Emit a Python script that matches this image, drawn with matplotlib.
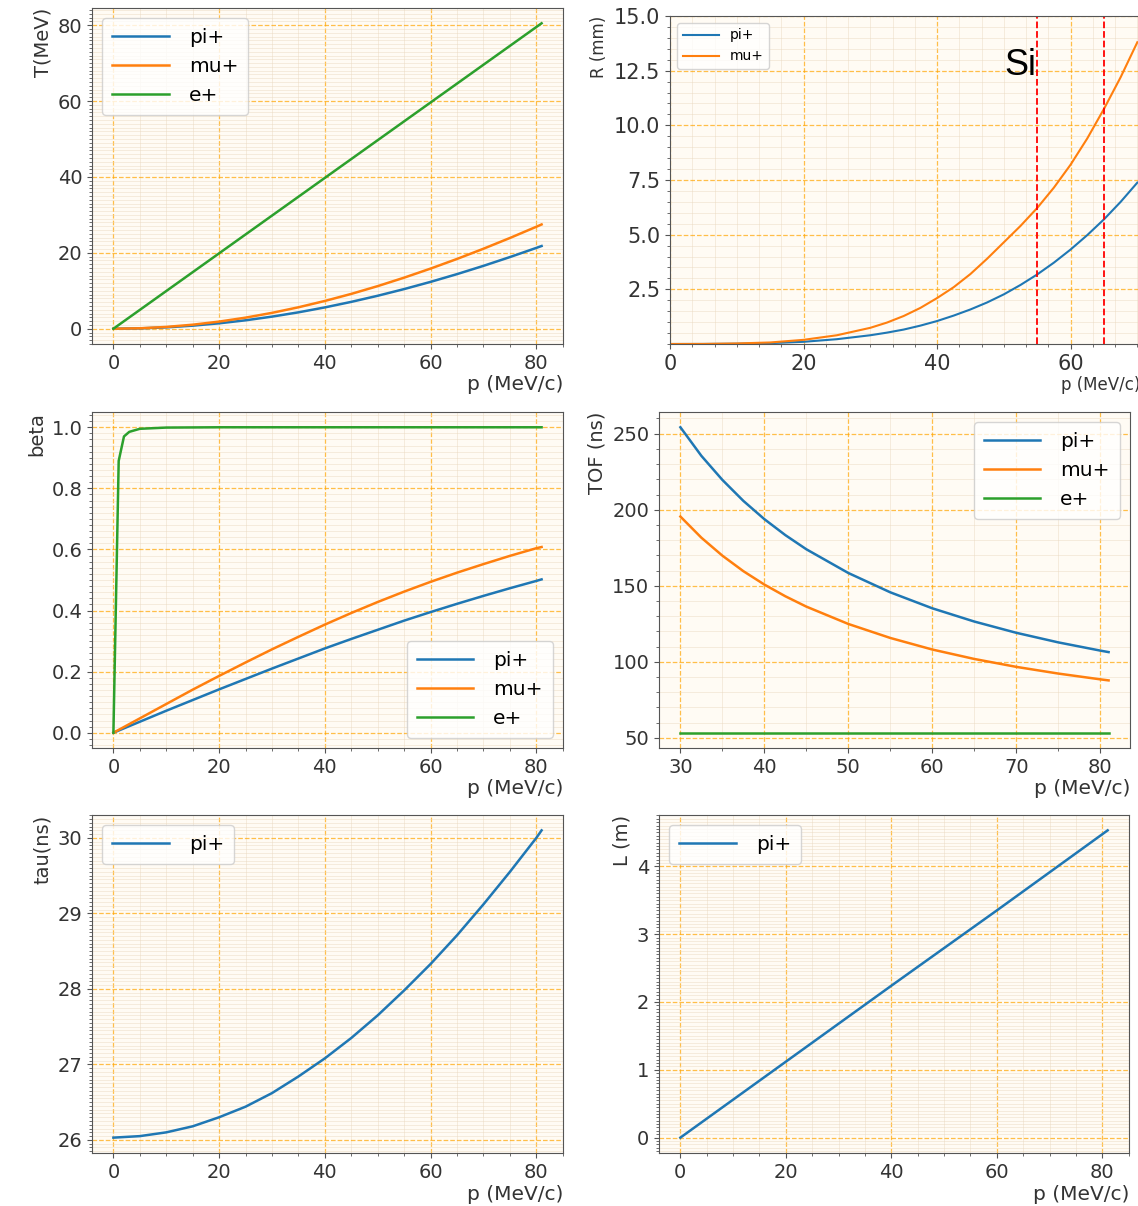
import matplotlib
matplotlib.use("Agg")
import matplotlib.pyplot as plt
from matplotlib.ticker import MultipleLocator

# kinetic energy T (MeV) vs momentum
p_t = [0, 5, 10, 15, 20, 25, 30, 35, 40, 45, 50, 55, 60, 65, 70, 75, 80, 81]
t_pi = [0, 0.09, 0.36, 0.81, 1.43, 2.22, 3.19, 4.32, 5.62, 7.08, 8.69, 10.45,
        12.35, 14.39, 16.57, 18.88, 21.30, 21.80]
t_mu = [0, 0.12, 0.47, 1.06, 1.88, 2.92, 4.18, 5.65, 7.32, 9.18, 11.23, 13.46,
        15.85, 18.39, 21.08, 23.91, 26.87, 27.48]
p_te = [0, 81]
t_e = [0, 80.5]

# range R (mm) in Si
p_r = [0, 5, 10, 15, 20, 25, 30, 32.5, 35, 37.5, 40, 42.5, 45, 47.5, 50, 52.5,
       55, 57.5, 60, 62.5, 65, 67.5, 70]
r_pi = [0, 0.002, 0.012, 0.04, 0.1, 0.22, 0.4, 0.52, 0.66, 0.84, 1.05, 1.3, 1.58,
        1.9, 2.27, 2.7, 3.18, 3.72, 4.32, 4.98, 5.7, 6.5, 7.38]
r_mu = [0, 0.003, 0.025, 0.07, 0.19, 0.4, 0.74, 0.98, 1.28, 1.65, 2.1, 2.6, 3.2,
        3.9, 4.65, 5.4, 6.22, 7.15, 8.2, 9.4, 10.75, 12.2, 13.8]
si_lines = [55, 65]

# beta
p_b = [0, 5, 10, 15, 20, 25, 30, 35, 40, 45, 50, 55, 60, 65, 70, 75, 80, 81]
b_pi = [0, 0.036, 0.072, 0.107, 0.142, 0.176, 0.210, 0.243, 0.276, 0.307, 0.337,
        0.367, 0.395, 0.422, 0.448, 0.473, 0.497, 0.502]
b_mu = [0, 0.047, 0.094, 0.141, 0.186, 0.230, 0.273, 0.314, 0.354, 0.392, 0.428,
        0.462, 0.494, 0.524, 0.552, 0.579, 0.604, 0.608]
p_be = [0, 1, 2, 3, 4, 5, 10, 20, 40, 60, 81]
b_e = [0, 0.89, 0.97, 0.985, 0.99, 0.995, 0.999, 1.0, 1.0, 1.0, 1.0]

# time of flight (ns)
p_tof = [30, 32.5, 35, 37.5, 40, 42.5, 45, 50, 55, 60, 65, 70, 75, 80, 81]
tof_pi = [254.2, 235.4, 219.6, 205.8, 193.8, 183.3, 174.0, 158.4, 145.7, 135.2,
          126.5, 119.1, 112.8, 107.4, 106.4]
tof_mu = [195.5, 181.6, 169.8, 159.6, 150.8, 143.1, 136.3, 124.9, 115.7, 108.1,
          101.9, 96.7, 92.3, 88.5, 87.8]
p_tofe = [30, 81]
tof_e = [53.4, 53.4]

# pion lifetime in lab (ns)
p_tau = [0, 5, 10, 15, 20, 25, 30, 35, 40, 45, 50, 55, 60, 65, 70, 75, 80, 81]
tau_pi = [26.03, 26.05, 26.10, 26.18, 26.30, 26.44, 26.62, 26.84, 27.08, 27.35,
          27.65, 27.98, 28.33, 28.71, 29.12, 29.55, 30.00, 30.10]

# decay length (m)
p_l = [0, 20, 40, 60, 81]
l_pi = [0, 1.12, 2.24, 3.35, 4.53]

W, H = 1138, 1206
TXT = "#333333"


def px_axes(fig, x0, y0, x1, y1):
    return fig.add_axes([x0 / W, 1 - y1 / H, (x1 - x0) / W, (y1 - y0) / H])


def style(ax, xminor, yminor, tick_size=14):
    ax.set_facecolor("#fffbf4")
    ax.xaxis.set_minor_locator(MultipleLocator(xminor))
    ax.yaxis.set_minor_locator(MultipleLocator(yminor))
    ax.grid(which="major", color="orange", linestyle="--", linewidth=0.9, alpha=0.7)
    ax.grid(which="minor", color="#e8d6bd", linestyle="-", linewidth=0.5, alpha=0.6)
    ax.set_axisbelow(True)
    ax.tick_params(which="both", labelsize=tick_size, colors="#555555", labelcolor=TXT)
    for s in ax.spines.values():
        s.set_color("#555555")


def labels(ax, ylab, xsize=14.5, ysize=14):
    ax.set_xlabel("p (MeV/c)", fontsize=xsize, loc="right", color=TXT, labelpad=2)
    ax.set_ylabel(ylab, fontsize=ysize, loc="top", color=TXT)


def big_legend(ax, loc):
    ax.legend(loc=loc, fontsize=14.5, handlelength=2.8, handletextpad=1.0,
              borderpad=0.5)


fig = plt.figure(figsize=(W / 100, H / 100), dpi=100)

# T vs p
ax1 = px_axes(fig, 92, 8, 563, 344)
ax1.plot(p_t, t_pi, label="pi+", lw=1.8)
ax1.plot(p_t, t_mu, label="mu+", lw=1.8)
ax1.plot(p_te, t_e, label="e+", lw=1.8)
style(ax1, 5, 1)
labels(ax1, "T(MeV)")
big_legend(ax1, "upper left")

# R vs p
ax2 = px_axes(fig, 670, 16, 1140, 344)
ax2.plot(p_r, r_pi, label="pi+", lw=1.5)
ax2.plot(p_r, r_mu, label="mu+", lw=1.5)
for x in si_lines:
    ax2.axvline(x, color="red", linestyle="--", lw=1.3)
ax2.text(54.8, 12.3, "Si", fontsize=26, family="Liberation Sans", ha="right", va="baseline")
ax2.set_xlim(0, 70.4)
ax2.set_ylim(0, 15)
ax2.set_yticks([2.5, 5.0, 7.5, 10.0, 12.5, 15.0])
ax2.set_xticks([0, 20, 40, 60])
style(ax2, 10 / 3, 0.5, tick_size=15)
ax2.spines["right"].set_visible(False)
labels(ax2, "R (mm)", xsize=12, ysize=12)
ax2.legend(loc="upper left", fontsize=10, handlelength=2.6)

# beta vs p
ax3 = px_axes(fig, 92, 412, 563, 748)
ax3.plot(p_b, b_pi, label="pi+", lw=1.8)
ax3.plot(p_b, b_mu, label="mu+", lw=1.8)
ax3.plot(p_be, b_e, label="e+", lw=1.8)
style(ax3, 5, 0.02)
labels(ax3, "beta")
big_legend(ax3, "lower right")

# TOF vs p
ax4 = px_axes(fig, 659, 412, 1130, 748)
ax4.plot(p_tof, tof_pi, label="pi+", lw=1.8)
ax4.plot(p_tof, tof_mu, label="mu+", lw=1.8)
ax4.plot(p_tofe, tof_e, label="e+", lw=1.8)
style(ax4, 5, 10)
labels(ax4, "TOF (ns)")
big_legend(ax4, "upper right")

# tau vs p
ax5 = px_axes(fig, 92, 815, 563, 1153)
ax5.plot(p_tau, tau_pi, label="pi+", lw=1.8)
ax5.yaxis.set_major_locator(MultipleLocator(1))
style(ax5, 5, 0.05)
labels(ax5, "tau(ns)")
big_legend(ax5, "upper left")

# L vs p
ax6 = px_axes(fig, 659, 815, 1129, 1153)
ax6.plot(p_l, l_pi, label="pi+", lw=1.8)
style(ax6, 5, 0.05)
labels(ax6, "L (m)")
big_legend(ax6, "upper left")

fig.savefig("out.png", dpi=100)
